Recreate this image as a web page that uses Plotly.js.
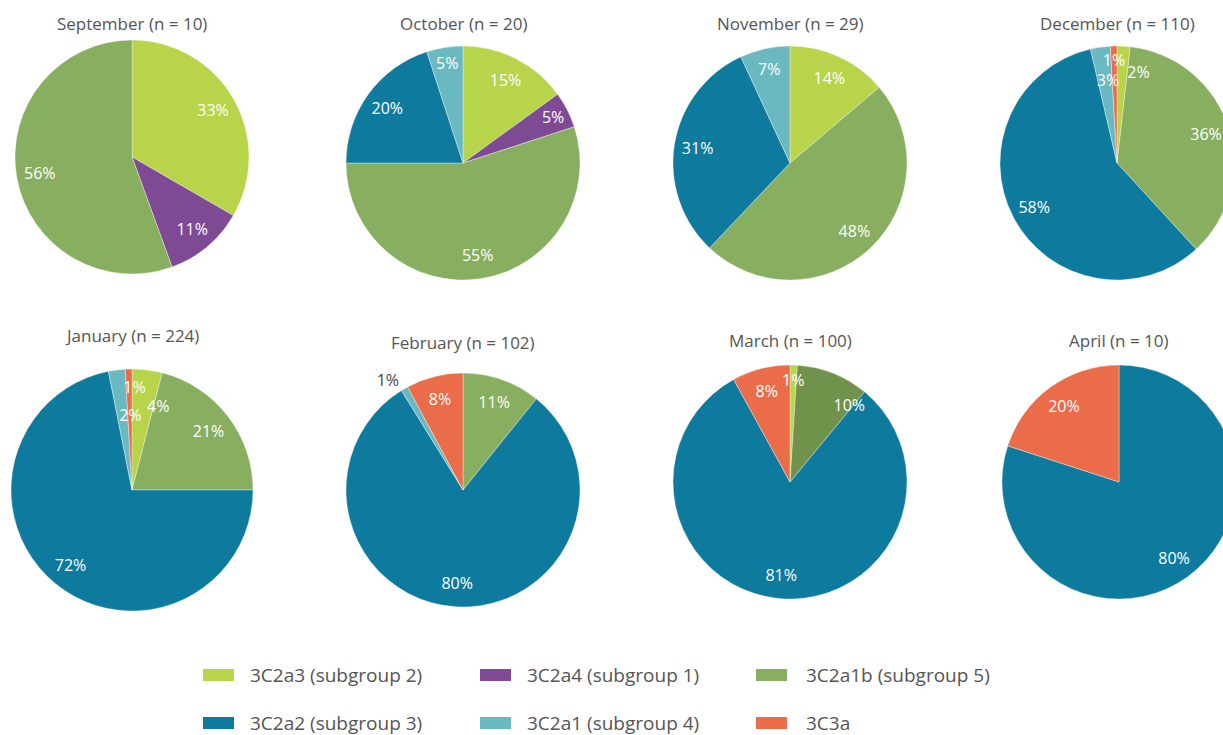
<!DOCTYPE html>
<html><head><meta charset="utf-8">
<script src="https://cdn.plot.ly/plotly-3.0.1.min.js"></script>
<style>html,body{margin:0;padding:0;overflow:hidden;background:#fff}#chart{width:1240px;height:735px}</style>
</head><body><div id="chart"></div>
<script>
// ---- data ----
const months = ['September','October','November','December','January','February','March','April'];
const totals = [10,20,29,110,224,102,100,10];
const categories = ['3C2a3 (subgroup 2)','3C2a4 (subgroup 1)','3C2a1b (subgroup 5)','3C2a2 (subgroup 3)','3C2a1 (subgroup 4)','3C3a'];
const sub2 = [3,3,4,2,9,0,1,0];      // 3C2a3
const sub1 = [1,1,0,0,0,0,0,0];      // 3C2a4
const sub5 = [5,11,14,40,47,11,10,0];// 3C2a1b
const sub3 = [0,4,9,64,161,82,81,8]; // 3C2a2
const sub4 = [0,1,2,3,5,1,0,0];      // 3C2a1
const c3a  = [0,0,0,1,2,8,8,2];      // 3C3a
const series = [sub2, sub1, sub5, sub3, sub4, c3a];

// ---- style ----
const colors = ['#b7d44a','#7e4a94','#88ae5f','#0e7b9e','#6bb9c0','#ea6c48'];
const W = 1240, H = 735;
const centers = [[132,157],[463,163],[790,163],[1117,163],[132,490],[463,490],[790,482],[1119,482]];
const radii = [117,117,117,117,121,117,117,117];
const titleY = [24,24,24,24,336,342,341,341];
const colorOverride = {6: {2: '#71924a'}};
const outsideLabels = {5: {4: true}};
// month -> category -> [radius fraction of label centre, angle nudge in degrees]
const labelTweaks = {
  3: {0: [0.80, 10], 4: [0.71, 2], 5: [0.88, 0]},
  4: {0: [0.73, 10], 4: [0.62, 6], 5: [0.85, 3]},
  6: {0: [0.87, 0], 2: [0.83, 16]}
};
const FONT = '"Open Sans", "Noto Sans", sans-serif';

const traces = [];
const annotations = [];
const shapes = [];

months.forEach((m, i) => {
  const idx = series.map((s, c) => c).filter(c => series[c][i] > 0);
  const labels = idx.map(c => categories[c]);
  const values = idx.map(c => series[c][i]);
  const cols = idx.map(c => (colorOverride[i] && colorOverride[i][c]) || colors[c]);
  const sum = values.reduce((a, b) => a + b, 0);
  const [cx, cy] = centers[i];
  const R = radii[i];
  const dom = (r) => ({x: [(cx - r) / W, (cx + r) / W], y: [1 - (cy + r) / H, 1 - (cy - r) / H]});
  const common = {type: 'pie', labels: labels, values: values, sort: false, direction: 'clockwise',
    showlegend: false, hoverinfo: 'none'};
  // base solid pie
  traces.push(Object.assign({}, common, {
    domain: dom(R), rotation: 0, textinfo: 'none',
    marker: {colors: cols, line: {color: 'rgba(255,255,255,0.6)', width: 0.6}}
  }));
  // label overlay (transparent ring)
  const tw = labelTweaks[i] || {};
  const out = outsideLabels[i] || {};
  traces.push(Object.assign({}, common, {
    domain: dom(R), rotation: 0, hole: 0.6,
    marker: {colors: idx.map(() => 'rgba(0,0,0,0)'), line: {width: 0}},
    texttemplate: idx.map(c => tw[c] ? '' : '%{percent:.0%}'),
    textposition: idx.map(c => out[c] ? 'outside' : 'inside'),
    insidetextorientation: 'horizontal',
    insidetextfont: {family: FONT, size: 16, color: '#ffffff'},
    outsidetextfont: {family: FONT, size: 16, color: '#444444'}
  }));
  // nudged labels for crowded / special slices
  Object.keys(tw).forEach(key => {
    const c = +key;
    const t = tw[c][0];
    const p = series[c][i] / sum;
    const rInsSin = 1 / (1 + 1 / Math.sin(Math.PI * p));
    let f = 1, hole = 0;
    if (t > 0.5 && (1 - t) <= rInsSin) { hole = 2 * t - 1; }
    else { f = t / (1 - Math.min(rInsSin, 0.5)); }
    traces.push(Object.assign({}, common, {
      domain: dom(R * f), rotation: tw[c][1], hole: hole,
      marker: {colors: idx.map(() => 'rgba(0,0,0,0)'), line: {width: 0}},
      texttemplate: idx.map(cc => cc === c ? '%{percent:.0%}' : ''),
      textposition: 'inside',
      insidetextorientation: 'horizontal',
      insidetextfont: {family: FONT, size: 16, color: '#ffffff'}
    }));
  });
  annotations.push({
    text: m + ' (n = ' + totals[i] + ')', xref: 'paper', yref: 'paper',
    x: cx / W, y: 1 - titleY[i] / H, xanchor: 'center', yanchor: 'middle', showarrow: false,
    font: {family: FONT, size: 17, color: '#555555'}
  });
});

// manual legend (wide colour bars like the reference)
const legCols = [[203, 248], [480, 525], [756, 804]];
const legRows = [675, 723];
categories.forEach((name, c) => {
  const [rx, tx] = legCols[c % 3];
  const ry = legRows[Math.floor(c / 3)];
  shapes.push({type: 'rect', xref: 'paper', yref: 'paper',
    x0: rx / W, x1: (rx + 31) / W, y0: 1 - (ry + 6) / H, y1: 1 - (ry - 6) / H,
    fillcolor: colors[c], line: {width: 0}});
  annotations.push({text: name, xref: 'paper', yref: 'paper', x: tx / W, y: 1 - ry / H,
    xanchor: 'left', yanchor: 'middle', showarrow: false,
    font: {family: FONT, size: 19, color: '#555555'}});
});

const layout = {
  width: W, height: H,
  margin: {l: 0, r: 0, t: 0, b: 0},
  paper_bgcolor: '#ffffff',
  showlegend: false,
  uniformtext: {minsize: 16, mode: 'show'},
  annotations: annotations,
  shapes: shapes,
  font: {family: FONT}
};
Plotly.newPlot('chart', traces, layout, {displayModeBar: false, staticPlot: true});
</script>
</body></html>
